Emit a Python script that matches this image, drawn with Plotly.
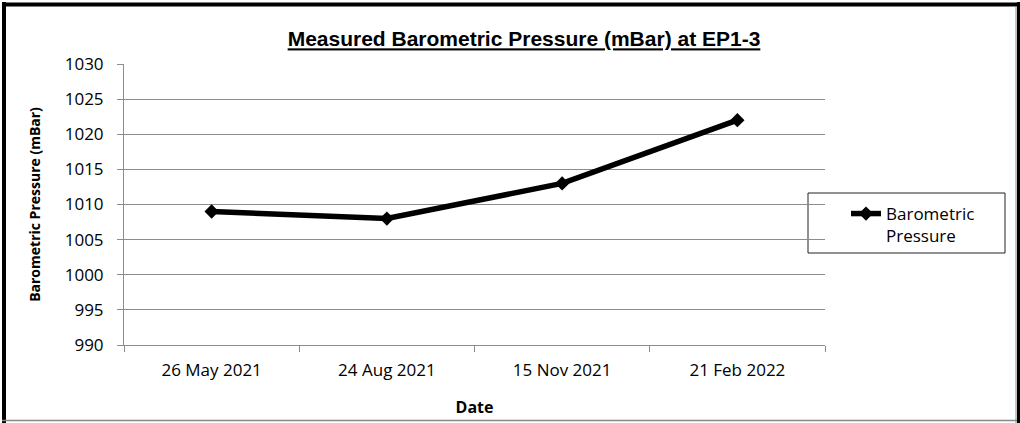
import plotly.graph_objects as go

categories = ["26 May 2021", "24 Aug 2021", "15 Nov 2021", "21 Feb 2022"]
pressure = [1009, 1008, 1013, 1022]
y_ticks = [990, 995, 1000, 1005, 1010, 1015, 1020, 1025, 1030]

W, H = 1020, 423
L, R, T, B = 124, 195, 64, 78
pw, ph = W - L - R, H - T - B

def px(x):
    return (x - L) / pw

def py(y):
    return 1 - (y - T) / ph

fig = go.Figure()
fig.add_trace(go.Scatter(
    x=categories, y=pressure, mode="lines+markers",
    name="Barometric<br>Pressure",
    line=dict(color="black", width=5.5),
    marker=dict(symbol="diamond", size=11, color="black"),
))

font_body = "'Open Sans', 'Noto Sans', sans-serif"
grey = "#8c8c8c"

fig.update_layout(
    width=W, height=H,
    margin=dict(l=L, r=R, t=T, b=B, autoexpand=False),
    paper_bgcolor="white", plot_bgcolor="white",
    font=dict(family=font_body, size=17, color="black"),
    title=dict(
        text="<b><u>Measured Barometric Pressure (mBar) at EP1-3</u></b>",
        x=524 / W, xref="container", xanchor="center",
        y=1 - 39 / H, yref="container", yanchor="middle",
        font=dict(family="'Liberation Sans', Arial, sans-serif", size=21),
    ),
    showlegend=True,
    legend=dict(
        x=px(846), xanchor="left", y=py(196), yanchor="top",
        borderwidth=0, bgcolor="rgba(0,0,0,0)",
        font=dict(family=font_body, size=17),
        valign="top",
    ),
    xaxis=dict(
        type="category", range=[-0.5, 3.5], tickson="boundaries", ticks="outside", ticklen=6,
        tickcolor=grey, showline=True, linecolor=grey, linewidth=1,
        showgrid=False, tickfont=dict(size=17), ticklabelstandoff=10,
        title=dict(text="<b>Date</b>", font=dict(size=16), standoff=21),
    ),
    yaxis=dict(
        range=[990, 1030], tickvals=y_ticks, ticks="outside", ticklen=6,
        tickcolor=grey, showline=True, linecolor=grey, linewidth=1,
        showgrid=True, gridcolor=grey, gridwidth=1,
        tickfont=dict(size=17), zeroline=False, ticklabelstandoff=10,
        title=dict(text="<b>Barometric Pressure (mBar)</b>", font=dict(size=14), standoff=20),
    ),
    shapes=[
        dict(type="rect", xref="paper", yref="paper", x0=px(808), x1=px(1005), y0=py(193), y1=py(253),
             line=dict(color="#222222", width=1), fillcolor="white", layer="below"),
        dict(type="line", xref="paper", yref="paper", x0=px(4), x1=px(4), y0=py(2), y1=py(423),
             line=dict(color="black", width=4)),
        dict(type="line", xref="paper", yref="paper", x0=px(2), x1=px(1020), y0=py(4.5), y1=py(4.5),
             line=dict(color="black", width=4)),
        dict(type="line", xref="paper", yref="paper", x0=px(1018.5), x1=px(1018.5), y0=py(2), y1=py(423),
             line=dict(color="black", width=3)),
        dict(type="line", xref="paper", yref="paper", x0=px(1016), x1=px(1016), y0=py(6), y1=py(423),
             line=dict(color="#888888", width=1)),
        dict(type="line", xref="paper", yref="paper", x0=px(2), x1=px(1017), y0=py(420.5), y1=py(420.5),
             line=dict(color="#888888", width=1.5)),
    ],
)

fig.write_html("out.html", config={"displayModeBar": False},
               post_script="document.body.style.margin='0';")
